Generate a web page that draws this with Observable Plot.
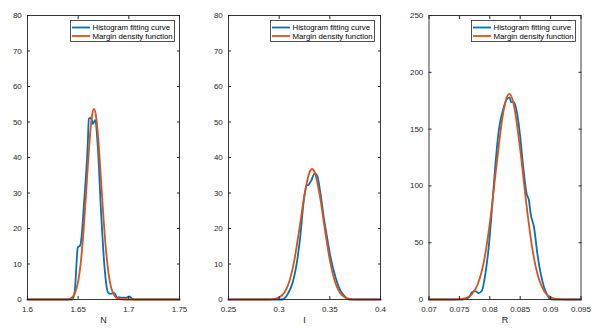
<!DOCTYPE html>
<html>
<head>
<meta charset="utf-8">
<script src="https://cdn.jsdelivr.net/npm/d3@7"></script>
<script src="https://cdn.jsdelivr.net/npm/@observablehq/plot@0.6"></script>
<style>
  html, body { margin: 0; padding: 0; background: #fff; }
  #wrap { position: relative; width: 599px; height: 332px; overflow: hidden; font-family: "Liberation Sans", Arial, sans-serif; }
  .panel { position: absolute; top: 0; width: 200px; height: 332px; }
  .legend { position: absolute; top: 20px; left: 70px; width: 105px; height: 22px; }
</style>
</head>
<body>
<div id="wrap"></div>
<script>
// ---------- series names / colours ----------
const seriesNames = ["Histogram fitting curve", "Margin density function"];
const seriesColors = ["#0072BD", "#D95319"];

// ---------- panel N ----------
const nXLabel = "N";
const nXTicks = [1.6, 1.65, 1.7, 1.75];
const nXTickLabels = ["1.6", "1.65", "1.7", "1.75"];
const nYTicks = [0, 10, 20, 30, 40, 50, 60, 70, 80];
const nYTickLabels = ["0", "10", "20", "30", "40", "50", "60", "70", "80"];
const nHistX = [1.600, 1.644, 1.6465, 1.6497, 1.652, 1.6535, 1.6555, 1.6575, 1.6595, 1.6605, 1.6628, 1.6645, 1.6668, 1.6694, 1.6727, 1.676, 1.6793, 1.6816, 1.686, 1.688, 1.6974, 1.7007, 1.7033, 1.705, 1.75];
const nHistY = [0, 0, 2, 14.7, 15.2, 18, 26, 34, 44, 50.9, 51.2, 49.5, 50.6, 42.9, 24.1, 9.1, 2.1, 1.6, 1.8, 0.65, 0.5, 0.9, 0.2, 0, 0];
const nDensX = [1.600, 1.640, 1.6425, 1.645, 1.6475, 1.650, 1.6525, 1.655, 1.6575, 1.660, 1.6625, 1.6638, 1.6656, 1.6675, 1.670, 1.6725, 1.675, 1.6775, 1.680, 1.6825, 1.685, 1.6875, 1.690, 1.695, 1.75];
const nDensY = [0, 0, 0.3, 0.9, 2.3, 5.1, 10.2, 18.2, 28.5, 39.6, 48.9, 52.0, 53.7, 51.9, 44.6, 33.9, 22.9, 13.8, 7.3, 3.4, 1.5, 0.5, 0.2, 0, 0];

// ---------- panel I ----------
const iXLabel = "I";
const iXTicks = [0.25, 0.3, 0.35, 0.4];
const iXTickLabels = ["0.25", "0.3", "0.35", "0.4"];
const iYTicks = [0, 10, 20, 30, 40, 50, 60, 70, 80];
const iYTickLabels = ["0", "10", "20", "30", "40", "50", "60", "70", "80"];
const iHistX = [0.25, 0.303, 0.3046, 0.3095, 0.3129, 0.3178, 0.3211, 0.3243, 0.327, 0.3293, 0.3316, 0.3352, 0.3375, 0.3408, 0.344, 0.3467, 0.3507, 0.3556, 0.3605, 0.3655, 0.3688, 0.4];
const iHistY = [0, 0, 0.2, 2.1, 4.4, 11.0, 18.5, 27.9, 32.1, 32.4, 33.5, 35.6, 34.9, 29.8, 23.2, 18.5, 11.9, 6.3, 2.5, 0.65, 0, 0];
const iDensX = [0.25, 0.29, 0.295, 0.30, 0.305, 0.31, 0.315, 0.32, 0.325, 0.33, 0.3325, 0.335, 0.34, 0.345, 0.35, 0.355, 0.36, 0.365, 0.37, 0.375, 0.4];
const iDensY = [0, 0, 0.15, 0.6, 1.9, 5.1, 11.1, 20.0, 29.5, 35.9, 36.8, 35.9, 29.5, 20.0, 11.1, 5.1, 1.9, 0.6, 0.15, 0, 0];

// ---------- panel R ----------
const rXLabel = "R";
const rXTicks = [0.07, 0.075, 0.08, 0.085, 0.09, 0.095];
const rXTickLabels = ["0.07", "0.075", "0.08", "0.085", "0.09", "0.095"];
const rYTicks = [0, 50, 100, 150, 200, 250];
const rYTickLabels = ["0", "50", "100", "150", "200", "250"];
const rHistX = [0.07, 0.0755, 0.0765, 0.07707, 0.07762, 0.07816, 0.07872, 0.07927, 0.07982, 0.08038, 0.08093, 0.08148, 0.0823, 0.08286, 0.08325, 0.0835, 0.08396, 0.0844, 0.08495, 0.0855, 0.08606, 0.08644, 0.08672, 0.08727, 0.08783, 0.08838, 0.08893, 0.08949, 0.0899, 0.0905, 0.095];
const rHistY = [0, 0, 1.5, 6.4, 7.3, 5.6, 7.9, 22.6, 46, 81.3, 119.4, 148.8, 169.3, 176.7, 178, 173.7, 173.7, 166.4, 145.9, 116.5, 93, 87, 75.4, 63.6, 40.2, 22.6, 10.8, 3.5, 0.6, 0, 0];
const rDensX = [0.07, 0.074, 0.075, 0.076, 0.077, 0.078, 0.079, 0.080, 0.081, 0.082, 0.0826, 0.0832, 0.0838, 0.084, 0.085, 0.086, 0.087, 0.088, 0.089, 0.090, 0.091, 0.092, 0.093, 0.095];
const rDensY = [0, 0, 0.3, 1.2, 4.3, 13.2, 32.7, 67.0, 113.2, 157.3, 174.8, 181, 174.8, 170.1, 132.1, 84.7, 44.5, 19.3, 6.9, 2.0, 0.5, 0.1, 0, 0];

const panels = [
  {left: 0, ml: 27, xLabel: nXLabel, xTicks: nXTicks, xTickLabels: nXTickLabels, yTicks: nYTicks, yTickLabels: nYTickLabels, hx: nHistX, hy: nHistY, dx: nDensX, dy: nDensY},
  {left: 200, ml: 28, xLabel: iXLabel, xTicks: iXTicks, xTickLabels: iXTickLabels, yTicks: iYTicks, yTickLabels: iYTickLabels, hx: iHistX, hy: iHistY, dx: iDensX, dy: iDensY},
  {left: 401, ml: 27.5, xLabel: rXLabel, xTicks: rXTicks, xTickLabels: rXTickLabels, yTicks: rYTicks, yTickLabels: rYTickLabels, hx: rHistX, hy: rHistY, dx: rDensX, dy: rDensY}
];

const axisColor = "#262626";
const wrap = document.getElementById("wrap");

for (const p of panels) {
  const hist = p.hx.map((x, i) => ({x, y: p.hy[i]}));
  const dens = p.dx.map((x, i) => ({x, y: p.dy[i]}));
  const xDomain = [p.xTicks[0], p.xTicks[p.xTicks.length - 1]];
  const yDomain = [p.yTicks[0], p.yTicks[p.yTicks.length - 1]];
  const xf = d => p.xTickLabels[p.xTicks.indexOf(d)];
  const yf = d => p.yTickLabels[p.yTicks.indexOf(d)];
  const chart = Plot.plot({
    width: 200,
    height: 332,
    marginLeft: p.ml,
    marginRight: 200 - p.ml - 152,
    marginTop: 15,
    marginBottom: 33,
    style: {fontFamily: "'Liberation Sans', Arial, sans-serif", fontSize: "8px", color: axisColor, background: "transparent", overflow: "visible"},
    x: {domain: xDomain},
    y: {domain: yDomain},
    marks: [
      Plot.line(hist, {x: "x", y: "y", stroke: seriesColors[0], strokeWidth: 1.8, curve: "monotone-x"}),
      Plot.line(dens, {x: "x", y: "y", stroke: seriesColors[1], strokeWidth: 1.8, curve: "monotone-x"}),
      Plot.frame({stroke: axisColor, strokeWidth: 0.9}),
      Plot.axisX({anchor: "bottom", ticks: p.xTicks, tickSize: -3, tickPadding: 9.5, tickFormat: xf, label: null, stroke: axisColor, fill: axisColor}),
      Plot.axisX({anchor: "top", ticks: p.xTicks, tickSize: -3, tickFormat: () => "", label: null, stroke: axisColor}),
      Plot.axisY({anchor: "left", ticks: p.yTicks, tickSize: -3, tickPadding: 8.7, tickFormat: yf, label: null, stroke: axisColor, fill: axisColor}),
      Plot.axisY({anchor: "right", ticks: p.yTicks, tickSize: -3, tickFormat: () => "", label: null, stroke: axisColor}),
      Plot.text([p.xLabel], {frameAnchor: "bottom", text: d => d, dy: 17, lineAnchor: "top", fontSize: 9, fill: axisColor})
    ]
  });
  const div = document.createElement("div");
  div.className = "panel";
  div.style.left = p.left + "px";
  div.appendChild(chart);
  // legend
  const leg = document.createElement("div");
  leg.className = "legend";
  leg.innerHTML = `<svg width="105" height="22" style="overflow:visible">
    <rect x="0.5" y="0.5" width="104" height="21" fill="#fff" stroke="${axisColor}" stroke-width="0.8"/>
    <line x1="2" x2="20" y1="7.5" y2="7.5" stroke="${seriesColors[0]}" stroke-width="1.8"/>
    <line x1="2" x2="20" y1="16" y2="16" stroke="${seriesColors[1]}" stroke-width="1.8"/>
    <text x="22.5" y="10.3" font-size="7.8" font-family="'Liberation Sans', Arial, sans-serif" fill="#000">${seriesNames[0]}</text>
    <text x="22.5" y="18.8" font-size="7.8" font-family="'Liberation Sans', Arial, sans-serif" fill="#000">${seriesNames[1]}</text>
  </svg>`;
  div.appendChild(leg);
  wrap.appendChild(div);
}
</script>
</body>
</html>
